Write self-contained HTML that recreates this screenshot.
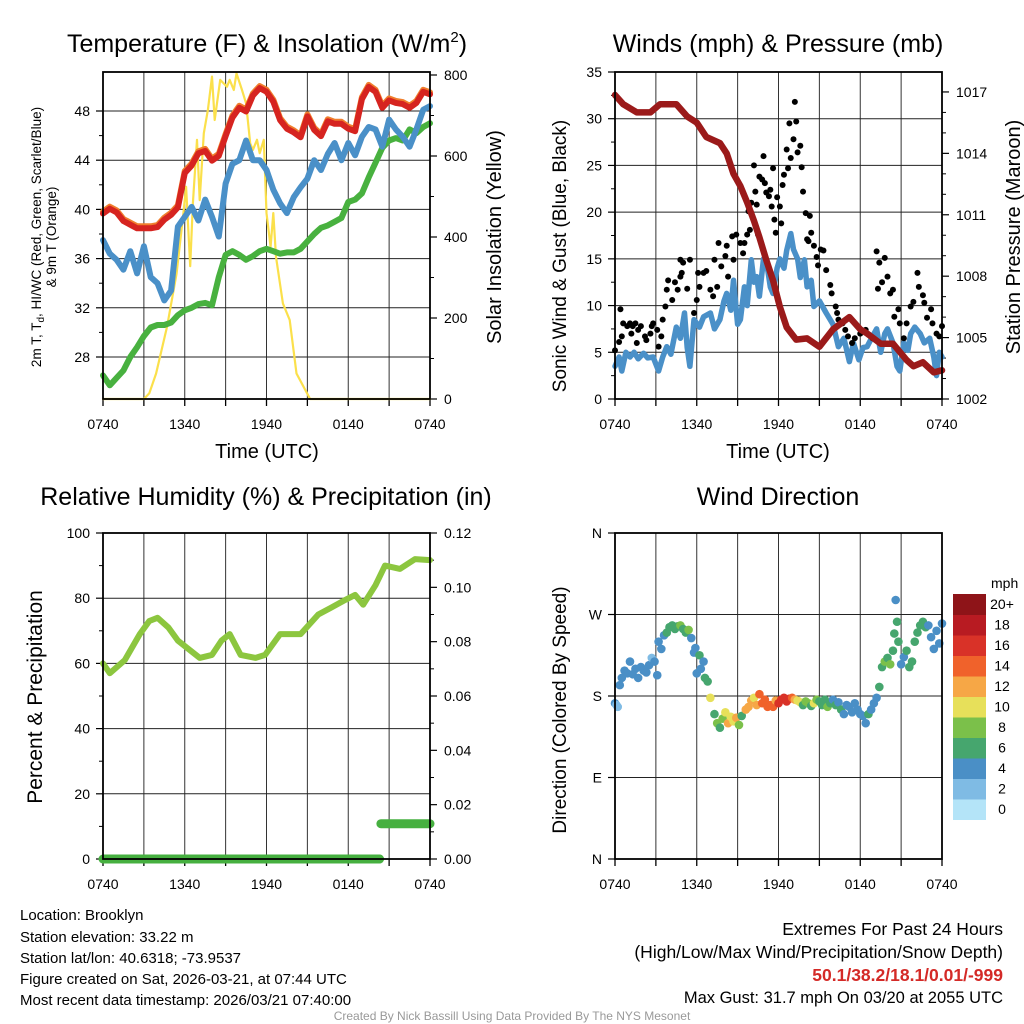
<!DOCTYPE html>
<html><head><meta charset="utf-8"><style>
html,body{margin:0;padding:0;background:#fff;}
svg{display:block;font-family:"Liberation Sans",Arial,sans-serif;}
</style></head><body>
<svg id="fig" width="1024" height="1024" viewBox="0 0 1024 1024" xmlns="http://www.w3.org/2000/svg">
<rect width="1024" height="1024" fill="#fff"/>
<g id="layer"></g>
<g font-size="15" fill="#000">
<text x="20" y="920">Location: Brooklyn</text>
<text x="20" y="942">Station elevation: 33.22 m</text>
<text x="20" y="963">Station lat/lon: 40.6318; -73.9537</text>
<text x="20" y="984">Figure created on Sat, 2026-03-21, at 07:44 UTC</text>
<text x="20" y="1005">Most recent data timestamp: 2026/03/21 07:40:00</text>
</g>
<g font-size="17.5" text-anchor="end">
<text x="1003" y="935">Extremes For Past 24 Hours</text>
<text x="1003" y="958">(High/Low/Max Wind/Precipitation/Snow Depth)</text>
<text x="1003" y="981" fill="#d42a27" font-weight="bold">50.1/38.2/18.1/0.01/-999</text>
<text x="1003" y="1003" font-size="16.5">Max Gust: 31.7 mph On 03/20 at 2055 UTC</text>
</g>
<text x="512" y="1020" font-size="12" fill="#999" text-anchor="middle">Created By Nick Bassill Using Data Provided By The NYS Mesonet</text>
</svg>
<script>
// ---- Temperature panel data (half-hourly from 0740 UTC) ----
const tempRed=[39.7,40.1,39.8,39.1,38.8,38.5,38.5,38.5,38.6,39.2,39.6,40.2,43.0,43.6,44.6,44.8,44.0,44.4,46.0,47.5,48.3,48.0,49.3,49.9,49.6,48.8,47.3,46.6,46.3,45.9,47.6,46.5,46.0,47.2,47.0,47.0,46.6,46.4,49.0,50.0,49.6,48.3,48.9,48.7,48.6,48.3,48.7,49.6,49.4];
const tempBlue=[37.5,36.4,35.9,35.1,36.6,34.8,37.0,34.5,34.0,32.6,33.4,38.6,39.4,40.2,39.1,40.8,39.4,37.8,42.1,43.7,44.0,45.6,44.0,44.0,43.2,41.6,40.5,39.7,41.0,41.8,42.5,44.0,43.2,44.5,45.4,44.0,45.4,44.4,45.9,46.7,46.5,45.1,47.3,46.5,45.9,45.1,46.5,48.1,48.4];
const tempGreen=[26.5,25.7,26.3,26.9,28.0,28.8,29.7,30.4,30.6,30.6,30.8,31.4,31.8,32.0,32.3,32.4,32.2,34.5,36.3,36.6,36.3,35.9,36.2,36.6,36.8,36.6,36.4,36.5,36.5,36.8,37.4,38.0,38.5,38.7,39.0,39.3,40.6,40.8,41.3,42.6,43.8,45.0,45.6,45.8,45.6,46.5,46.2,46.7,47.0];
const solarTimes=[0,3.0,3.4,3.9,4.7,5.4,5.9,6.1,6.4,6.6,6.9,7.1,7.4,7.7,8.0,8.2,8.6,9.1,9.3,9.6,9.8,10.2,10.5,10.8,11.0,11.3,11.5,11.8,12.0,12.3,12.5,12.7,13.2,13.7,14.2,15.2,24];
const solarValues=[0,0,14,63,178,310,459,524,328,484,640,491,656,714,796,689,788,771,788,763,804,763,730,631,615,640,607,640,459,376,459,351,236,195,63,0,0];
const tempTicks=[28,32,36,40,44,48];
const solarTicks=[0,200,400,600,800];
// ---- Wind panel data ----
const windTimes=[0,0.3,0.5,0.8,1.1,1.4,1.7,2.1,2.4,2.8,3.2,3.5,3.8,4.1,4.5,4.8,5.1,5.3,5.5,5.8,6.2,6.5,7.0,7.3,7.7,8.0,8.2,8.5,8.7,9.0,9.2,9.5,9.7,10.0,10.2,10.4,10.6,10.9,11.1,11.4,11.6,11.9,12.1,12.4,12.6,12.9,13.1,13.4,13.6,13.9,14.1,14.4,14.6,15.0,15.5,16.0,16.4,16.8,17.2,17.5,17.9,18.2,18.5,18.9,19.2,19.5,19.8,20.0,20.4,20.7,20.9,21.2,21.5,21.7,22.0,22.4,22.7,23.1,23.4,23.6,23.8,24.0];
const windValues=[3.5,4.5,3.0,5.0,4.5,5.0,4.3,4.9,4.4,4.5,3.0,4.5,5.6,4.8,7.7,6.5,9.2,5.5,3.5,8.5,7.7,8.8,9.2,7.5,8.5,10.5,11.3,9.5,12.7,8.0,8.5,12.0,10.0,14.9,12.5,13.1,11.0,15.0,14.9,12.0,11.3,14.0,15.0,14.0,15.9,17.7,16.0,15.0,13.0,14.9,12.0,12.7,9.9,10.5,9.2,8.0,5.6,6.5,4.0,6.0,4.2,5.5,5.6,6.7,7.5,5.0,7.0,7.5,6.0,3.5,3.0,6.0,5.2,7.0,7.7,7.0,6.0,6.5,4.5,2.5,5.0,4.5];
const gustTimes=[0,0.3,0.4,0.5,0.6,0.9,1.1,1.2,1.3,1.5,1.6,1.7,1.9,2.2,2.3,2.6,2.7,2.8,3.1,3.2,3.4,3.5,3.7,3.8,3.9,4.2,4.4,4.6,4.8,4.9,4.8,5.0,5.3,5.5,5.8,6.0,6.1,6.2,6.5,6.7,7.0,7.2,7.3,7.5,7.6,7.8,8.1,8.2,8.3,8.6,8.7,8.9,9.2,9.4,9.5,9.7,9.8,9.9,10.0,10.2,10.3,10.4,10.5,10.6,10.8,10.9,11.0,11.1,11.3,11.4,11.5,11.6,11.7,11.8,11.9,12.1,12.2,12.3,12.4,12.6,12.7,12.8,12.9,13.1,13.2,13.3,13.4,13.6,13.7,13.8,14.0,14.1,14.2,14.3,14.4,14.6,14.8,14.9,15.1,15.3,15.5,15.8,15.9,16.2,16.3,16.4,16.7,16.9,17.1,17.4,17.6,18.0,18.4,18.6,18.9,19.2,19.4,19.3,19.6,19.8,20.0,20.2,20.4,20.5,20.8,20.9,21.2,21.4,21.7,21.9,22.2,22.3,22.6,22.7,22.9,23.2,23.3,23.6,23.8,24.0];
const gustValues=[5.2,6.1,9.6,6.7,8.1,7.8,8.1,7.0,7.8,8.1,6.0,7.4,7.8,6.7,6.3,7.0,7.8,8.1,7.4,5.6,6.7,8.5,9.9,11.7,12.7,10.6,12.5,11.7,13.1,13.5,14.9,14.6,11.8,14.9,9.2,10.6,13.5,12.0,13.5,13.7,11.7,11.0,14.9,12.0,16.7,14.2,15.3,16.4,13.1,17.4,14.9,17.6,16.7,15.6,16.7,17.6,20.1,18.1,21.0,25.0,22.2,20.8,17.6,23.8,23.5,26.0,23.1,22.1,21.7,22.4,20.6,24.7,19.2,17.8,21.6,20.6,18.8,22.9,24.0,26.7,24.7,29.5,25.8,27.8,31.8,29.7,26.4,27.1,24.8,22.2,19.9,17.1,16.9,19.6,17.8,16.4,15.2,14.3,16.0,15.9,13.8,12.2,11.3,9.9,9.2,8.5,8.1,7.4,6.7,6.0,6.5,7.0,7.4,6.9,6.5,15.8,14.6,11.8,12.5,15.1,13.1,11.3,11.7,8.8,9.6,8.1,6.5,8.1,9.9,10.4,13.5,12.0,11.1,10.3,8.7,9.6,8.1,7.0,6.7,7.8];
const presTimes=[0,0.6,1.6,2.6,3.3,4.5,5.3,6.0,6.7,7.7,8.2,8.7,9.2,9.7,10.2,10.6,11.1,11.6,12.1,12.6,13.3,14.1,15.0,16.0,17.2,18.0,18.5,19.5,20.4,21.4,21.9,22.6,23.4,24.0];
const presValues=[1016.85,1016.4,1016.0,1016.0,1016.4,1016.4,1015.8,1015.5,1014.8,1014.5,1014.0,1013.0,1012.4,1011.6,1010.7,1009.9,1008.8,1007.8,1006.5,1005.5,1004.9,1004.96,1004.55,1005.4,1006.0,1005.4,1005.2,1004.7,1004.7,1003.9,1003.6,1003.8,1003.3,1003.4];
const windTicks=[0,5,10,15,20,25,30,35];
const presTicks=[1002,1005,1008,1011,1014,1017];
// ---- RH / precip ----
const rhTimes=[0,0.5,1.6,2.7,3.4,4.0,4.8,5.5,6.4,7.1,8.0,8.7,9.3,10.1,11.2,11.9,13.0,14.5,15.8,16.7,17.8,18.5,19.1,20.0,20.7,21.8,22.9,24];
const rhValues=[60,57,61,69,73,74,71,67,64,61.7,62.6,67,69,62.6,61.7,62.6,69,69,75,77,79.5,81,78,84,90,89,92,91.7];
const precipTimes=[0,20.3,20.4,24];
const precipValues=[0,0,0.013,0.013];
const rhTicks=[0,20,40,60,80,100];
const precipTicks=["0.00","0.02","0.04","0.06","0.08","0.10","0.12"];
// ---- Wind direction ----
const dirTimes=[0,0.1,0.2,0.35,0.5,0.7,0.9,1.1,1.3,1.5,1.7,1.9,2.1,2.3,2.5,2.7,2.9,3.1,3.2,3.4,3.6,3.8,4.0,4.2,4.4,4.6,4.8,5.0,5.2,5.4,5.6,5.8,5.9,6.0,6.2,6.3,6.5,6.6,6.8,7.0,7.3,7.5,7.7,7.9,8.1,8.3,8.5,8.7,8.9,9.1,9.3,9.6,9.8,10.0,10.2,10.4,10.6,10.8,11.0,11.2,11.4,11.6,11.8,12.0,12.2,12.4,12.6,12.8,13.0,13.2,13.4,13.6,13.8,14.0,14.2,14.4,14.6,14.8,15.0,15.2,15.4,15.6,15.8,16.0,16.2,16.4,16.6,16.8,17.0,17.2,17.4,17.6,17.8,18.0,18.2,18.4,18.6,18.8,19.0,19.2,19.4,19.6,19.8,20.0,20.2,20.4,20.5,20.6,20.7,20.8,21.0,21.2,21.4,21.6,21.8,22.0,22.2,22.4,22.6,22.8,23.0,23.2,23.4,23.6,23.8,24.0];
const dirValues=[172,170,168,192,200,208,205,218,204,210,200,212,208,206,214,222,218,203,240,232,247,250,256,258,254,257,258,254,250,253,244,228,233,205,225,210,218,200,196,178,160,150,145,155,162,150,157,152,156,148,158,165,168,175,178,170,182,172,176,168,170,168,175,172,176,178,174,177,178,176,175,173,170,174,172,169,172,176,174,170,176,168,172,176,170,173,165,160,170,168,162,172,165,160,158,150,160,165,172,178,190,212,218,222,215,230,249,286,262,240,215,223,230,212,218,240,250,258,262,256,258,245,232,252,238,260];
const dirSpeeds=[4,3,2,4,4,4,4,4,4,4,4,4,4,4,4,3,4,4,4,4,4,6,6,7,6,6,9,6,7,8,4,4,4,5,6,5,5,6,7,10,7,8,7,8,11,12,10,11,12,8,7,12,13,12,11,13,14,14,15,14,15,14,13,16,17,17,16,17,15,13,11,10,7,9,8,7,10,9,7,6,7,8,6,5,6,4,6,5,4,4,5,4,4,4,4,4,6,4,4,4,6,7,8,6,8,6,6,4,6,6,4,4,6,6,6,6,6,7,6,6,4,4,4,4,4,4];
const dirTicks=["N","E","S","W","N"];
const speedLabels=["0","2","4","6","8","10","12","14","16","18","20+"];
const speedColors=["#b4e4f8","#7fbbe4","#4a8fc6","#46a66e","#7bc04a","#e7e05a","#f6a746","#f0622b","#d93228","#b81b22","#8e1418"];
const timeLabels=["0740","1340","1940","0140","0740"];

const NS="http://www.w3.org/2000/svg";
const layer=document.getElementById('layer');
function mk(tag,attrs,parent){const e=document.createElementNS(NS,tag);for(const k in attrs)e.setAttribute(k,attrs[k]);(parent||layer).appendChild(e);return e;}
function txt(s,attrs,parent){const e=mk('text',attrs,parent);e.textContent=s;return e;}

function panel(o){
  const g=mk('g',{});
  
  
  const X=h=>o.x0+h*(o.x1-o.x0)/24;
  for(let i=1;i<8;i++){const l=mk('line',{x1:X(i*3),x2:X(i*3),y1:o.y0,y2:o.y1,stroke:'#333','stroke-width':1},g);
    }
  for(let i=0;i<=8;i++){const t=mk('line',{x1:X(i*3),x2:X(i*3),y1:o.y1,y2:o.y1+7,stroke:'#000','stroke-width':1.3},g);
    }
  timeLabels.forEach((s,i)=>{const t=txt(s,{x:X(i*6),y:o.y1+30,'font-size':14,'text-anchor':'middle'},g);
    });
  return {g,X};
}
function frame(g,o){
  const r=mk('rect',{x:o.x0,y:o.y0,width:o.x1-o.x0,height:o.y1-o.y0,fill:'none',stroke:'#000','stroke-width':1.8},g);
  
}
function leftAxis(g,o,ticks,Y,labels,minor){
  ticks.forEach((v,i)=>{const y=Y(v);
    const gl=mk('line',{x1:o.x0,x2:o.x1,y1:y,y2:y,stroke:'#222','stroke-width':1},g);
    
    const t=mk('line',{x1:o.x0-7,x2:o.x0,y1:y,y2:y,stroke:'#000','stroke-width':1.2},g);
    
    const l=txt(labels?labels[i]:String(v),{x:o.x0-13,y:y+5,'font-size':14,'text-anchor':'end'},g);
    
    if(minor&&i<ticks.length-1){const ym=(Y(v)+Y(ticks[i+1]))/2;const m=mk('line',{x1:o.x0-4,x2:o.x0,y1:ym,y2:ym,stroke:'#000'},g);
      }
  });
}
function rightAxis(g,o,ticks,Y,labels,minorN){
  ticks.forEach((v,i)=>{const y=Y(v);
    const t=mk('line',{x1:o.x1,x2:o.x1+7,y1:y,y2:y,stroke:'#000','stroke-width':1.2},g);
    
    const l=txt(labels?labels[i]:String(v),{x:o.x1+14,y:y+5,'font-size':14},g);
    
    if(minorN&&i<ticks.length-1){const v2=Number(ticks[i+1]);for(let k=1;k<minorN;k++){const ym=Y(Number(v)+(v2-Number(v))*k/minorN);
      const m=mk('line',{x1:o.x1,x2:o.x1+4,y1:ym,y2:ym,stroke:'#000'},g);}}
  });
}
function poly(g,ts,vs,X,Y,color,w,name,dy){
  const p=mk('polyline',{points:ts.map((t,i)=>X(t).toFixed(1)+','+(Y(vs[i])+(dy||0)).toFixed(1)).join(' '),fill:'none',stroke:color,'stroke-width':w,'stroke-linejoin':'round','stroke-linecap':'round'},g);
  return p;
}
function title(s,x,y,name){const t=txt('',{x:x,y:y,'font-size':25,'text-anchor':'middle'});t.textContent=s;
  return t;}
function vlabel(s,x,y,size,name,g){const t=txt(s,{x:0,y:0,'font-size':size,'text-anchor':'middle',transform:`translate(${x},${y}) rotate(-90)`},g);
  return t;}
const halfT=n=>Array.from({length:n},(_, i)=>i*0.5);

// ===== Panel 1: Temperature =====
{const o={x0:103,x1:430,y0:72,y1:399,name:'temperature-panel'};
 const {g,X}=panel(o);
 const Y=v=>357-(v-28)*12.3;
 const YS=v=>399-v*324/800;
 leftAxis(g,o,tempTicks,Y,null,true);
 rightAxis(g,o,solarTicks,YS,null,2);
 const ht=halfT(49);
 poly(g,solarTimes,solarValues,X,YS,'#fbe04b',2.2,'solar-line');
 poly(g,ht,tempGreen,X,Y,'#48b13f',6,'dewpoint-line');
 poly(g,ht,tempBlue,X,Y,'#4a90c8',6,'windchill-line');
 poly(g,ht,tempRed,X,Y,'#f07f2d',6,'temp-9m-line',-1.5);
 poly(g,ht,tempRed,X,Y,'#d62420',6,'temp-2m-line',0.5);
 frame(g,o);
 const tt=title('',267,52,'temperature-title');
 tt.innerHTML='Temperature (F) &amp; Insolation (W/m<tspan dy="-10" font-size="15">2</tspan><tspan dy="10">)</tspan>';
 const lt=txt('',{x:0,y:0,'font-size':13.5,'text-anchor':'middle',transform:'translate(41,237) rotate(-90)'},g);
 lt.innerHTML='2m T, T<tspan dy="3" font-size="10">d</tspan><tspan dy="-3">, HI/WC (Red, Green, Scarlet/Blue)</tspan>';
 
 const lt2=txt('& 9m T (Orange)',{x:0,y:0,'font-size':13.5,'text-anchor':'middle',transform:'translate(56,237) rotate(-90)'},g);
 
 vlabel('Solar Insolation (Yellow)',501,237,20,'solar-axis-title',g);
 const xt=txt('Time (UTC)',{x:267,y:458,'font-size':20,'text-anchor':'middle'},g);
 
}
// ===== Panel 2: Winds =====
{const o={x0:615,x1:942,y0:72,y1:399,name:'wind-panel'};
 const {g,X}=panel(o);
 const Y=v=>399-v*327/35;
 const YP=v=>399-(v-1002)*20.47;
 leftAxis(g,o,windTicks,Y,null,true);
 rightAxis(g,o,presTicks,YP,null,3);
 poly(g,windTimes,windValues,X,Y,'#4a90c8',5.5,'sonic-wind-line');
 gustTimes.forEach((t,i)=>{const c=mk('circle',{cx:X(t),cy:Y(gustValues[i]),r:3,fill:'#000'},g);
   
   });
 poly(g,presTimes,presValues,X,YP,'#9b1a1a',6.5,'pressure-line');
 frame(g,o);
 title('Winds (mph) & Pressure (mb)',778,52,'wind-title');
 vlabel('Sonic Wind & Gust (Blue, Black)',566,256,19,'wind-y-axis-title',g);
 vlabel('Station Pressure (Maroon)',1020,237,20,'pressure-axis-title',g);
 const xt=txt('Time (UTC)',{x:778,y:458,'font-size':20,'text-anchor':'middle'},g);
 
}
// ===== Panel 3: RH =====
{const o={x0:103,x1:430,y0:533,y1:859,name:'humidity-panel'};
 const {g,X}=panel(o);
 const Y=v=>859-v*3.26;
 const YP=v=>859-v*326/0.12;
 leftAxis(g,o,rhTicks,Y,null,true);
 rightAxis(g,o,precipTicks.map(Number),YP,precipTicks,2);
 poly(g,rhTimes,rhValues,X,Y,'#8cc63f',6,'rh-line');
 poly(g,precipTimes.slice(0,2),precipValues.slice(0,2),X,YP,'#46b040',9,'precip-line-1');
 poly(g,precipTimes.slice(2),precipValues.slice(2),X,YP,'#46b040',9,'precip-line-2');
 frame(g,o);
 title('Relative Humidity (%) & Precipitation (in)',266,505,'humidity-title');
 vlabel('Percent & Precipitation',42,697,21,'humidity-y-axis-title',g);
}
// ===== Panel 4: Wind direction =====
{const o={x0:615,x1:942,y0:533,y1:859,name:'direction-panel'};
 const {g,X}=panel(o);
 const Y=v=>859-v*326/360;
 leftAxis(g,o,[0,90,180,270,360],Y,dirTicks,false);
 dirTimes.forEach((t,i)=>{const k=Math.min(10,Math.floor(dirSpeeds[i]/2));
   const c=mk('circle',{cx:X(t),cy:Y(dirValues[i]),r:4.3,fill:speedColors[k]},g);
   
   });
 frame(g,o);
 title('Wind Direction',778,505,'direction-title');
 vlabel('Direction (Colored By Speed)',566,710,19,'direction-y-axis-title',g);
 const cb=mk('g',{});
 const u=txt('mph',{x:991,y:588,'font-size':14},cb);
 speedColors.forEach((c,i)=>{const y=594+(10-i)*20.5;
   const r=mk('rect',{x:953,y:y,width:33,height:21,fill:c},cb);
   
   const l=txt(speedLabels[i],{x:1002,y:y+15,'font-size':14,'text-anchor':'middle'},cb);
   });
}
</script>
</body></html>
